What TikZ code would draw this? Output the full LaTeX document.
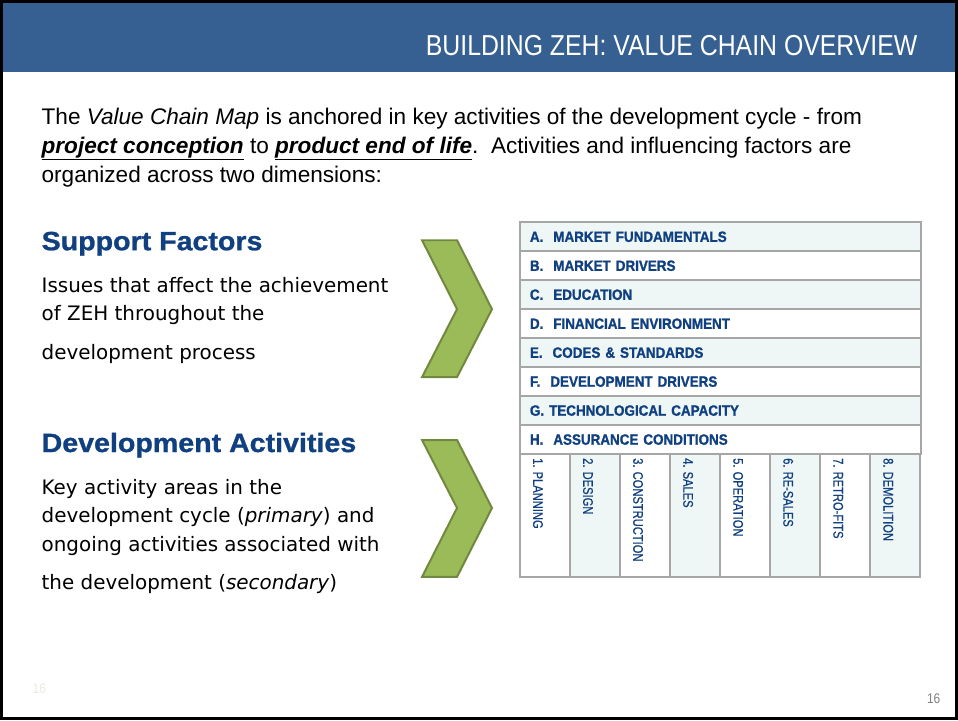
\documentclass[tikz,border=0pt]{standalone}
\usepackage{fontspec}
\setmainfont{Liberation Sans}
\newfontfamily\narrowfont[FakeStretch=0.86]{Liberation Sans}
\newfontfamily\rowfont[FakeStretch=0.90,FakeBold=1.2]{Liberation Sans}
\newfontfamily\colfont[FakeStretch=0.80,FakeBold=0.8]{Liberation Sans}
\newfontfamily\headfont[FakeStretch=1.08,FakeBold=1.0]{Liberation Sans}
\newfontfamily\descfont{DejaVu Sans}

\definecolor{headblue}{RGB}{55,96,146}
\definecolor{textblue}{RGB}{16,64,128}
\definecolor{cellfill}{RGB}{238,247,246}
\definecolor{gridgray}{RGB}{166,166,166}
\definecolor{chevfill}{RGB}{155,187,89}
\definecolor{chevdraw}{RGB}{113,137,63}

\begin{document}
\begin{tikzpicture}[x=1bp,y=-1bp,
    title/.style={anchor=base east,inner sep=0pt,text=white,font=\narrowfont\fontsize{29}{34}\selectfont},
    intro/.style={anchor=base west,inner sep=0pt,font=\fontsize{22.7}{29}\selectfont},
    heading/.style={anchor=base west,inner sep=0pt,text=textblue,font=\headfont\bfseries\fontsize{26.6}{30}\selectfont},
    desc/.style={anchor=base west,inner sep=0pt,font=\descfont\fontsize{20}{28}\selectfont},
    row/.style={draw=gridgray,line width=2bp,anchor=north west,text width=381bp,inner xsep=10bp,
        inner ysep=0pt,minimum height=29bp,align=left,text=textblue,font=\rowfont\bfseries\fontsize{15}{17}\selectfont},
    col/.style={draw=gridgray,line width=2bp,anchor=north west,minimum width=50.1bp,minimum height=123bp,inner sep=0pt},
    coltext/.style={rotate=-90,anchor=west,inner sep=0pt,text=textblue,font=\colfont\fontsize{14}{16}\selectfont},
    chevron/.style={fill=chevfill,draw=chevdraw,line width=2bp,line join=miter}]

    % slide frame and header bar
    \fill[white] (0,0) rectangle (958,720);
    \fill[headblue] (0,0) rectangle (958,72);
    \draw[black,line width=3bp] (1,1) rectangle (957,719);
    \node[title] (title) at (918,55) {BUILDING ZEH: VALUE CHAIN OVERVIEW};

    % introduction
    \node[intro] (intro1) at (41,124) {The \textit{Value Chain Map} is anchored in key activities of the development cycle - from};
    \node[intro] (intro2) at (41,153) {\underline{\textbf{\textit{project conception}}} to \underline{\textbf{\textit{product end of life}}}.\ \ Activities and influencing factors are};
    \node[intro] (intro3) at (41,182) {organized across two dimensions:};

    % left column
    \node[heading] (support) at (41,250) {Support Factors};
    \node[desc] (sup1) at (41,292) {Issues that affect the achievement};
    \node[desc] (sup2) at (41,320) {of ZEH throughout the};
    \node[desc] (sup3) at (41,359) {development process};

    \node[heading] (devact) at (41,452) {Development Activities};
    \node[desc] (dev1) at (41,495) {Key activity areas in the};
    \node[desc] (dev2) at (41,523) {development cycle (\textit{primary}) and};
    \node[desc] (dev3) at (41,552) {ongoing activities associated with};
    \node[desc] (dev4) at (41,590) {the development (\textit{secondary})};

    % chevrons
    \draw[chevron] (422,240) -- (457,240) -- (492,309) -- (457,377) -- (422,377) -- (457,309) -- cycle;
    \draw[chevron] (422,440) -- (457,440) -- (492,508) -- (457,577) -- (422,577) -- (457,508) -- cycle;

    % support factor rows
    \foreach \i/\lbl/\shade in {0/{A.\ \ MARKET FUNDAMENTALS}/cellfill,1/{B.\ \ MARKET DRIVERS}/white,
        2/{C.\ \ EDUCATION}/cellfill,3/{D.\ \ FINANCIAL ENVIRONMENT}/white,
        4/{E.\ \ CODES \& STANDARDS}/cellfill,5/{F.\ \ DEVELOPMENT DRIVERS}/white,
        6/{G. TECHNOLOGICAL CAPACITY}/cellfill,7/{H.\ \ ASSURANCE CONDITIONS}/white}
        \node[row,fill=\shade] (row\i) at (519,221+29*\i) {\lbl};

    % development activity columns
    \foreach \j/\lbl/\shade in {0/1. PLANNING/white,1/2. DESIGN/cellfill,2/3. CONSTRUCTION/white,
        3/4. SALES/cellfill,4/5. OPERATION/white,5/6. RE-SALES/cellfill,
        6/7. RETRO-FITS/white,7/8. DEMOLITION/cellfill}
    {
        \node[col,fill=\shade] (col\j) at (519+50.1*\j,453) {};
        \node[coltext] (lbl\j) at (538+50.1*\j,458) {\lbl};
    }

    % page numbers
    \node[anchor=base west,inner sep=0pt,text={rgb,255:red,236;green,236;blue,222},font=\narrowfont\fontsize{14}{16}\selectfont] (pgfaint) at (32,694) {16};
    \node[anchor=base east,inner sep=0pt,text=gray,font=\narrowfont\fontsize{14}{16}\selectfont] (pgnum) at (941,704) {16};
\end{tikzpicture}
\end{document}
